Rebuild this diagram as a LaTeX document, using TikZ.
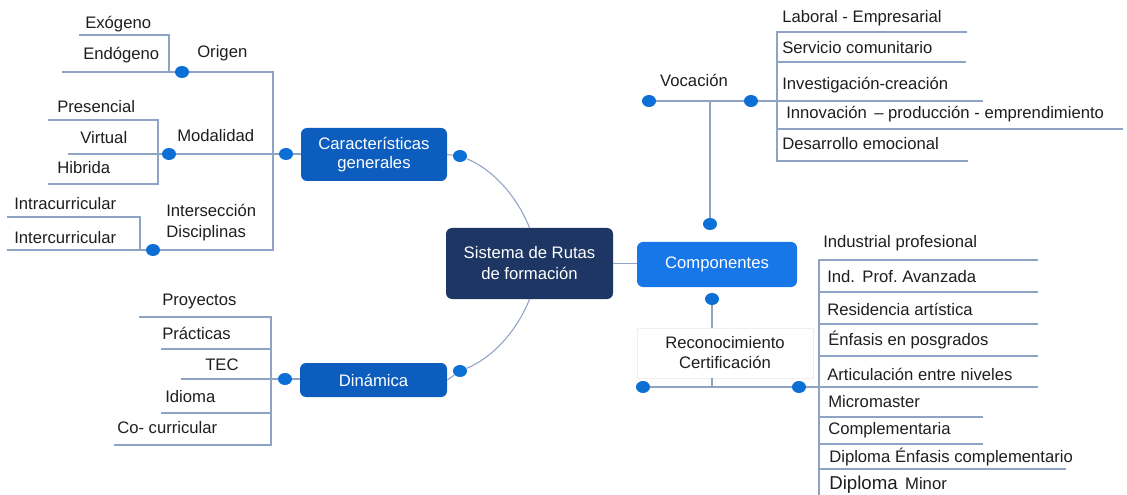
\documentclass[tikz,border=0pt]{standalone}
\usepackage{fontspec}
\setmainfont{Liberation Sans}
\usetikzlibrary{shapes.geometric}
\frenchspacing
\definecolor{linec}{HTML}{8FA3C4}
\definecolor{dotc}{HTML}{0B6FD6}
\definecolor{navy}{HTML}{1D3663}
\definecolor{midblue}{HTML}{0C5DBE}
\definecolor{brblue}{HTML}{1877E8}
\definecolor{txt}{HTML}{1E1E1E}
\definecolor{faint}{HTML}{EFEFEF}
\begin{document}
\begin{tikzpicture}[x=0.75pt,y=-0.75pt,
  ln/.style={draw=linec,line width=0.8pt},
  dot/.style={ellipse,fill=dotc,minimum width=10.5pt,minimum height=9pt,inner sep=0pt},
  lbl/.style={anchor=west,inner sep=0pt,text=txt,font=\fontsize{12.5}{15}\selectfont},
  clbl/.style={inner sep=0pt,text=txt,align=center,font=\fontsize{12.5}{15}\selectfont},
  llbl/.style={anchor=west,inner sep=0pt,text=txt,align=left,font=\fontsize{12.5}{15.5}\selectfont},
  box/.style={rounded corners=4.5pt,text=white,align=center,font=\fontsize{12.5}{15}\selectfont,inner sep=0pt},
]
\useasboundingbox (0,0) rectangle (1127,495);

% main boxes
\node[box,fill=navy,minimum width=125.25pt,minimum height=53.25pt,font=\fontsize{12.5}{15.75}\selectfont] (sis) at (529.5,263.5) {Sistema de Rutas\\de formación};
\node[box,fill=brblue,minimum width=120pt,minimum height=33.75pt] (comp) at (717,264.5) {Componentes};
\node[box,fill=midblue,minimum width=109.5pt,minimum height=39.75pt,font=\fontsize{12.5}{14.25}\selectfont] (cg) at (374,154.5) {Características\\generales};
\node[box,fill=midblue,minimum width=110.25pt,minimum height=25.5pt] (din) at (373.5,380) {Dinámica};

% dots
\node[dot] (dCGl) at (286,154) {};
\node[dot] (dCGr) at (460,156) {};
\node[dot] (dOri) at (182,72) {};
\node[dot] (dMod) at (169,154) {};
\node[dot] (dInt) at (153,250) {};
\node[dot] (dDl) at (285,379) {};
\node[dot] (dDr) at (460,371) {};
\node[dot] (dVt) at (710,224) {};
\node[dot] (dVl) at (649,101) {};
\node[dot] (dVr) at (751,101) {};
\node[dot] (dRt) at (712,299) {};
\node[dot] (dRl) at (643,387) {};
\node[dot] (dRr) at (799,387) {};

% center connections
\draw[ln] (sis.east) -- (comp.west |- sis.east);
\draw[ln] (dCGr) .. controls (491.8,168.8) and (516.6,195.3) .. (sis.north);
\draw[ln] (sis.south) .. controls (516.6,331.7) and (491.8,358.2) .. (dDr);
\draw[ln] (cg.east) -- (dCGr);
\draw[ln] (din.east) -- (dDr);
\draw[ln] (dCGl) -- (cg.west |- dCGl);
\draw[ln] (dDl) -- (din.west |- dDl);

% Caracteristicas subtree
\coordinate (ctr) at (273,72);
\coordinate (cbr) at (273,250);
\draw[ln] (dOri) -- (ctr) -- (cbr) -- (dInt);
\draw[ln] (dMod) -- (dCGl);
% Origen
\draw[ln] (79,35) -- (169,35) -- (169,72);
\draw[ln] (62,72) -- (dOri);
% Modalidad
\draw[ln] (48,120) -- (158,120) -- (158,184) -- (48,184);
\draw[ln] (68,154) -- (dMod);
% Interseccion
\draw[ln] (7,217) -- (140,217) -- (140,250);
\draw[ln] (7,250) -- (dInt);

\node[lbl] (tExo) at (85,24) {Exógeno};
\node[lbl] (tEnd) at (83,55) {Endógeno};
\node[lbl] (tOri) at (197,53) {Origen};
\node[lbl] (tPre) at (57,107) {Presencial};
\node[lbl] (tVir) at (80,138) {Virtual};
\node[lbl] (tHib) at (57,168) {Hibrida};
\node[lbl] (tMod) at (177,136) {Modalidad};
\node[lbl] (tIntra) at (14,204) {Intracurricular};
\node[lbl] (tInter) at (14,238) {Intercurricular};
\node[llbl] (tIntD) at (166,222.5) {Intersección\\Disciplinas};

% Dinamica subtree
\draw[ln] (139,317) -- (271,317) -- (271,445) -- (114,445);
\draw[ln] (161,349) -- (271,349);
\draw[ln] (161,413) -- (271,413);
\draw[ln] (181,379) -- (dDl);
\node[lbl] (tPro) at (162,301) {Proyectos};
\node[lbl] (tPra) at (162,333) {Prácticas};
\node[lbl] (tTec) at (205,365) {TEC};
\node[lbl] (tIdi) at (165,397) {Idioma};
\node[lbl] (tCoc) at (117,428) {Co- curricular};

% Vocacion subtree
\coordinate (vj) at (710,101);
\draw[ln] (dVl) -- (dVr);
\draw[ln] (vj) -- (dVt);
\draw[ln] (dVr) -- (983,101);
\draw[ln] (967,32) -- (777,32) -- (777,161) -- (968,161);
\draw[ln] (777,62) -- (966,62);
\draw[ln] (777,129) -- (1123,129);
\node[clbl] (tVoc) at (694,80) {Vocación};
\node[lbl] (tLab) at (782,18) {Laboral - Empresarial};
\node[lbl] (tSer) at (782,48) {Servicio comunitario};
\node[lbl] (tInv) at (782,85) {Investigación-creación};
\node[lbl] (tInn) at (786,114) {Innovación \,– producción - emprendimiento};
\node[lbl] (tDes) at (782,144) {Desarrollo emocional};

% Reconocimiento subtree
\node[draw=faint,line width=0.5pt,minimum width=132pt,minimum height=37.5pt,clbl,font=\fontsize{12.5}{15}\selectfont] (rec) at (725,353) {Reconocimiento\\Certificación};
\draw[ln] (dRt) -- (dRt |- rec.north);
\draw[ln] (dRt |- rec.south) -- (dRt |- dRl);
\draw[ln] (dRl) -- (dRr);
\draw[ln] (dRr) -- (1038,387);
\draw[ln] (1038,260) -- (819,260) -- (819,495);
\draw[ln] (819,292) -- (1038,292);
\draw[ln] (819,324) -- (1038,324);
\draw[ln] (819,356) -- (1038,356);
\draw[ln] (819,417) -- (983,417);
\draw[ln] (819,444) -- (983,444);
\draw[ln] (819,469) -- (1066,469);
\node[lbl] (tInd) at (823,243) {Industrial profesional};
\node[lbl] (tIpa) at (827,277) {Ind.\ \,Prof. Avanzada};
\node[lbl] (tRes) at (827,309) {Residencia artística};
\node[lbl] (tEnf) at (828,340) {Énfasis en posgrados};
\node[lbl] (tArt) at (827,374) {Articulación entre niveles};
\node[lbl] (tMic) at (828,402) {Micromaster};
\node[lbl] (tCom) at (828,430) {Complementaria};
\node[lbl] (tDip) at (829,457) {Diploma Énfasis complementario};
\node[lbl] (tMin) at (829,485) {{\fontsize{14}{16}\selectfont Diploma}\, Minor};
\end{tikzpicture}
\end{document}
